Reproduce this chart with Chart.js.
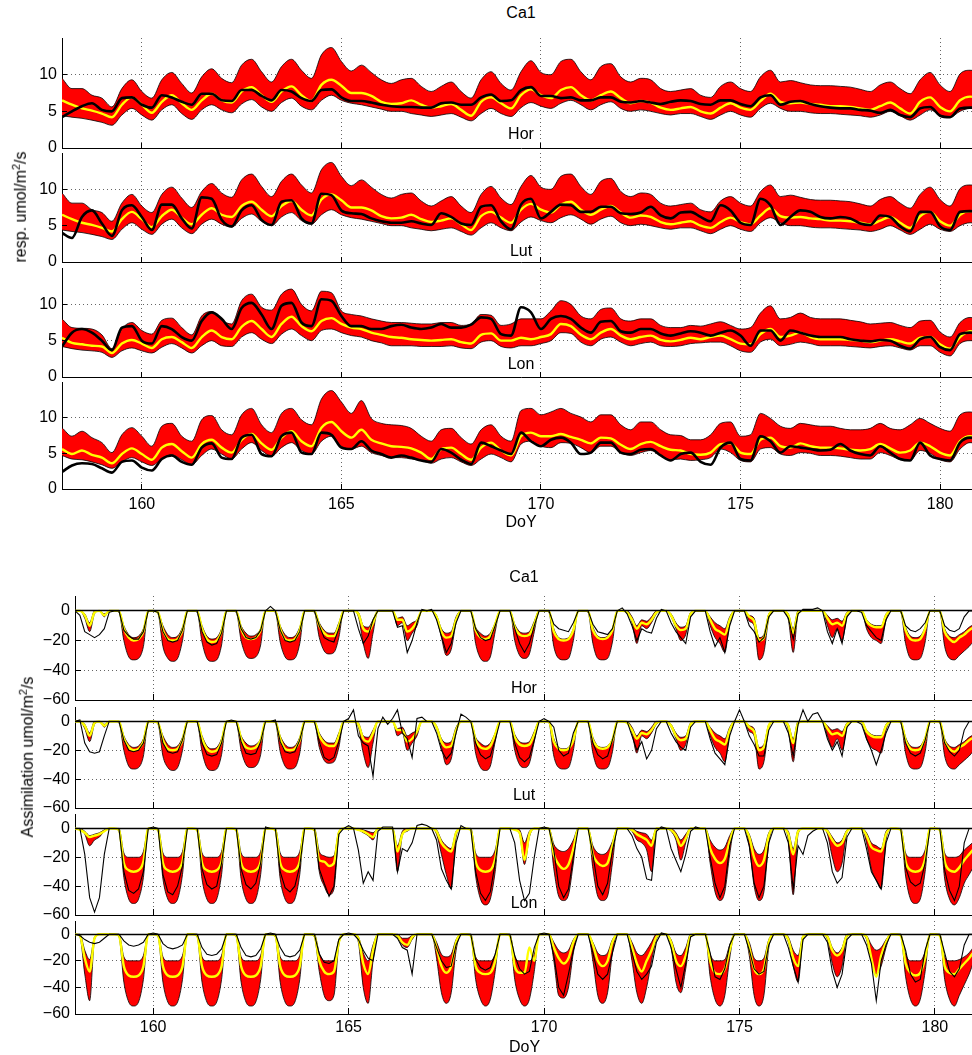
<!DOCTYPE html>
<html>
<head>
<meta charset="utf-8">
<script src="https://cdn.jsdelivr.net/npm/chart.js@4.4.1/dist/chart.umd.min.js"></script>
<style>
  body { margin: 0; width: 972px; height: 1055px; overflow: hidden; background: #fff; position: relative;
         font-family: "Liberation Sans", Arial, sans-serif; }
  canvas { position: absolute; left: 0; }
  .lbl { position: absolute; font-size: 16px; line-height: 1; color: #000; white-space: nowrap;
         transform: translate(-50%, -50%); z-index: 5; }
  .ylab { transform: translate(-50%, -50%) rotate(-90deg); }
  .ylab sup { font-size: 11px; }
</style>
</head>
<body>
<div class="lbl" style="left:521px;top:13px">Ca1</div>
<div class="lbl" style="left:521px;top:134px">Hor</div>
<div class="lbl" style="left:521px;top:251px">Lut</div>
<div class="lbl" style="left:521px;top:364px">Lon</div>
<div class="lbl ylab" style="left:20px;top:207px">resp. umol/m<sup>2</sup>/s</div>

<div class="lbl" style="left:524px;top:577px">Ca1</div>
<div class="lbl" style="left:524px;top:688px">Hor</div>
<div class="lbl" style="left:524px;top:795px">Lut</div>
<div class="lbl" style="left:524px;top:903px">Lon</div>
<div class="lbl ylab" style="left:27px;top:757px">Assimilation umol/m<sup>2</sup>/s</div>

<script>
// axis ticks
const xTicks = [160, 165, 170, 175, 180];
const respTicks = [0, 5, 10];
const assimTicks = [-60, -40, -20, 0];

// sampling times (DoY): respiration every 6 h, assimilation every 3 h
const respDays = Array.from({ length: 93 }, (_, i) => 158 + i * 0.25);
const assimDays = Array.from({ length: 185 }, (_, i) => 158 + i * 0.125);

// ---- respiration (top block), two days per row ----
// model band Ca1 / Hor (same in both panels)
const ca1HorRespHigh = [
  9.5, 8.1, 8.1, 7.2, 6.8, 5.6, 8.1, 9.3,
  7.7, 6.8, 9.3, 10.3, 8.8, 7.5, 9.7, 10.8,
  9.5, 8.9, 11.3, 12.1, 10.4, 9.0, 11.1, 12.1,
  10.6, 9.5, 12.7, 13.7, 11.8, 10.5, 11.3, 10.3,
  9.3, 8.8, 9.3, 9.5, 8.4, 7.7, 8.4, 9.0,
  7.7, 6.8, 9.3, 10.4, 8.8, 7.9, 10.4, 11.9,
  10.3, 10.0, 11.8, 12.1, 10.4, 9.3, 11.1, 11.5,
  9.7, 9.0, 9.5, 9.3, 8.1, 7.7, 7.9, 8.1,
  7.2, 6.9, 8.4, 9.0, 8.1, 7.7, 9.7, 10.6,
  9.0, 9.2, 8.9, 8.6, 8.5, 8.5, 8.4, 8.3,
  8.0, 7.7, 8.6, 9.0, 8.1, 7.4, 9.3, 10.3,
  8.6, 7.7, 10.1, 10.6, 10.5
];
const ca1HorRespLow = [
  4.4, 4.2, 4.05, 3.8, 3.5, 3.1, 4.5, 5.4,
  4.5, 3.8, 5.2, 5.9, 4.7, 3.9, 5.2, 5.9,
  5.2, 4.8, 6.0, 6.6, 5.6, 5.0, 6.2, 6.8,
  5.7, 5.2, 6.5, 7.2, 6.5, 6.1, 5.9, 5.6,
  5.3, 5.0, 5.0, 4.7, 4.5, 4.3, 4.5, 4.7,
  4.2, 3.7, 4.7, 5.4, 4.7, 4.3, 5.5, 6.2,
  5.7, 5.4, 6.1, 6.5, 5.9, 5.2, 5.9, 6.3,
  5.4, 5.0, 5.2, 5.0, 4.7, 4.5, 4.7, 4.7,
  4.3, 3.9, 4.5, 5.0, 4.5, 4.2, 5.4, 6.1,
  5.4, 5.0, 5.0, 4.8, 4.7, 4.7, 4.6, 4.5,
  4.4, 4.2, 4.5, 5.0, 4.4, 3.8, 4.5, 5.2,
  4.5, 4.2, 5.0, 5.4, 5.3
];
const ca1HorRespMid = [
  6.5, 5.9, 5.4, 5.1, 4.7, 4.2, 5.9, 6.9,
  5.9, 4.8, 6.3, 7.2, 6.1, 5.2, 6.5, 7.4,
  6.5, 6.2, 7.7, 8.3, 7.2, 6.3, 7.7, 8.4,
  7.2, 6.4, 8.6, 9.3, 8.5, 7.5, 7.5, 7.1,
  6.3, 6.0, 6.1, 6.5, 5.9, 5.5, 5.7, 6.0,
  5.2, 4.4, 6.3, 6.9, 6.1, 5.4, 7.2, 8.0,
  7.2, 6.8, 7.9, 8.3, 7.2, 6.5, 7.2, 7.7,
  6.8, 6.1, 6.4, 6.2, 5.5, 5.2, 5.4, 5.6,
  5.0, 4.7, 5.5, 6.1, 5.5, 5.2, 6.4, 7.4,
  6.3, 6.1, 6.2, 6.0, 5.9, 5.7, 5.7, 5.6,
  5.4, 5.2, 5.7, 6.2, 5.4, 4.7, 6.3, 6.9,
  5.6, 5.0, 6.5, 7.0, 6.9
];
const ca1RespObs = [
  4.2, 5.0, 5.7, 6.1, 5.2, 5.0, 6.8, 6.9,
  5.9, 5.5, 7.2, 6.9, 6.3, 5.9, 7.4, 7.4,
  6.5, 6.4, 7.9, 7.9, 7.1, 6.5, 7.9, 7.7,
  6.8, 6.4, 7.9, 8.0, 6.9, 6.4, 6.4, 6.2,
  5.9, 5.7, 5.6, 5.6, 5.5, 5.5, 6.1, 6.2,
  5.9, 5.9, 6.9, 7.3, 6.4, 6.5, 7.9, 8.3,
  7.1, 7.1, 6.8, 6.9, 6.5, 6.5, 6.9, 6.9,
  6.3, 6.2, 6.4, 6.2, 6.0, 6.3, 6.5, 6.4,
  6.0, 5.9, 6.5, 6.5, 6.0, 5.7, 6.9, 7.2,
  5.9, 6.3, 6.4, 6.0, 5.7, 5.5, 5.4, 5.4,
  5.2, 5.1, 4.8, 5.2, 4.5, 4.2, 5.4, 5.6,
  4.4, 4.2, 5.4, 5.5, 5.5
];
const horRespObs = [
  4.0, 3.3, 6.2, 7.1, 5.3, 3.6, 7.1, 7.8,
  6.2, 4.4, 7.9, 7.9, 6.0, 4.6, 8.9, 8.7,
  5.8, 4.9, 7.1, 7.8, 5.8, 5.1, 8.3, 8.5,
  6.0, 5.3, 9.4, 9.2, 7.1, 6.7, 6.6, 6.0,
  5.6, 5.4, 5.4, 5.6, 5.3, 5.1, 6.7, 6.2,
  5.3, 5.1, 7.6, 7.8, 5.6, 4.5, 7.9, 8.7,
  6.0, 6.9, 7.9, 7.8, 6.9, 6.9, 7.6, 7.6,
  6.7, 6.6, 6.8, 7.6, 6.4, 6.0, 6.8, 6.9,
  6.2, 5.6, 7.8, 7.1, 5.4, 5.1, 8.7, 7.8,
  5.1, 6.2, 7.1, 6.9, 6.2, 6.0, 6.2, 6.0,
  5.3, 5.1, 6.4, 6.2, 4.9, 4.2, 6.9, 6.9,
  4.9, 4.4, 6.9, 7.0, 6.9
];
// model band Lut
const lutRespHigh = [
  8.0, 6.8, 6.7, 6.6, 5.8, 3.9, 6.6, 7.5,
  6.4, 5.9, 7.8, 8.1, 6.8, 5.8, 8.4, 9.0,
  7.8, 7.3, 10.5, 11.4, 9.6, 9.2, 11.4, 12.1,
  10.0, 9.1, 11.8, 11.6, 9.1, 8.6, 8.4, 8.0,
  7.7, 7.5, 7.5, 7.4, 7.3, 7.3, 7.5, 7.5,
  7.1, 7.3, 8.6, 8.5, 7.1, 7.3, 8.0, 8.0,
  8.0, 9.1, 10.5, 10.0, 8.4, 8.0, 9.3, 9.5,
  8.0, 7.7, 8.0, 8.0, 7.1, 6.8, 6.8, 7.1,
  7.0, 7.3, 7.6, 7.1, 6.6, 6.8, 8.8, 9.8,
  8.0, 8.2, 8.8, 8.2, 8.0, 8.0, 8.0, 7.8,
  7.6, 7.3, 7.4, 7.5, 7.1, 6.8, 7.7, 7.8,
  6.2, 5.5, 7.5, 8.2, 8.0
];
const lutRespLow = [
  4.2, 3.9, 3.7, 3.6, 3.4, 2.7, 3.6, 4.0,
  3.6, 3.3, 4.1, 4.6, 4.0, 3.3, 4.3, 5.0,
  4.3, 4.2, 5.5, 6.1, 5.2, 4.6, 5.9, 6.6,
  5.7, 5.0, 6.4, 6.6, 6.1, 5.7, 5.5, 5.0,
  4.7, 4.3, 4.3, 4.3, 4.2, 4.2, 4.2, 4.3,
  4.0, 3.9, 4.8, 5.0, 4.2, 4.0, 4.3, 4.3,
  4.6, 5.0, 6.1, 6.0, 4.8, 4.3, 5.2, 5.5,
  4.8, 4.3, 4.6, 4.8, 4.3, 4.2, 4.3, 4.6,
  4.7, 4.8, 4.8, 4.3, 3.6, 3.4, 4.8, 5.2,
  4.3, 4.5, 4.8, 4.6, 4.3, 4.3, 4.3, 4.2,
  4.1, 4.0, 4.2, 4.3, 4.0, 3.7, 4.3, 4.3,
  3.4, 2.9, 4.6, 5.0, 5.0
];
const lutRespMid = [
  5.4, 4.7, 4.5, 4.3, 4.2, 3.3, 4.6, 5.1,
  4.6, 4.0, 5.2, 5.5, 4.8, 4.0, 5.5, 6.4,
  5.5, 5.2, 6.9, 7.7, 6.6, 5.5, 7.3, 8.3,
  7.0, 6.3, 7.7, 8.1, 7.3, 6.8, 6.6, 6.1,
  5.8, 5.5, 5.4, 5.2, 5.1, 5.0, 5.1, 5.2,
  4.8, 4.6, 5.8, 6.0, 5.0, 5.0, 5.4, 5.2,
  5.5, 5.9, 7.3, 7.0, 5.8, 5.2, 6.1, 6.6,
  5.7, 5.2, 5.5, 5.7, 5.1, 4.9, 5.1, 5.4,
  5.2, 5.5, 5.7, 5.2, 4.6, 4.5, 5.9, 6.6,
  5.5, 5.7, 6.1, 5.5, 5.2, 5.2, 5.2, 5.1,
  5.0, 4.8, 5.0, 5.2, 4.9, 4.6, 5.4, 5.5,
  4.5, 3.9, 5.5, 6.3, 6.2
];
const lutRespObs = [
  4.2, 6.1, 6.6, 6.1, 5.0, 3.7, 6.8, 7.0,
  5.0, 4.6, 7.0, 6.6, 5.5, 5.0, 7.7, 8.9,
  8.0, 6.6, 9.5, 10.2, 8.6, 6.6, 9.8, 10.2,
  7.5, 7.0, 10.7, 10.5, 8.4, 7.0, 7.0, 6.6,
  6.6, 7.0, 7.2, 6.8, 6.6, 6.8, 7.3, 6.8,
  6.8, 7.2, 8.2, 8.0, 5.9, 5.7, 9.6, 8.9,
  6.6, 8.0, 8.4, 8.0, 6.8, 6.1, 7.6, 7.7,
  6.3, 6.1, 6.6, 6.6, 6.0, 5.7, 6.0, 6.3,
  6.1, 5.7, 6.1, 6.4, 5.7, 4.3, 6.4, 6.4,
  5.0, 6.4, 6.1, 5.7, 5.5, 5.5, 5.5, 5.2,
  5.0, 4.9, 5.1, 5.0, 4.3, 3.9, 5.2, 5.5,
  4.1, 3.7, 5.9, 6.1, 6.0
];
// model band Lon
const lonRespHigh = [
  8.6, 7.4, 8.1, 7.2, 6.5, 5.1, 7.6, 8.6,
  7.4, 6.0, 8.8, 9.2, 7.4, 6.7, 9.7, 10.3,
  8.3, 7.6, 10.4, 11.3, 9.0, 7.9, 10.6, 11.3,
  9.7, 9.0, 12.6, 13.8, 12.2, 10.6, 12.4, 9.9,
  9.2, 9.0, 8.9, 8.5, 7.4, 6.7, 8.3, 8.5,
  7.2, 6.3, 8.3, 9.0, 7.4, 6.7, 11.0, 11.3,
  10.4, 10.8, 11.3, 10.6, 10.1, 9.4, 10.4, 10.4,
  9.0, 8.3, 9.4, 9.4, 8.3, 7.6, 7.5, 6.9,
  6.9, 7.6, 9.2, 9.4, 7.4, 7.6, 10.6, 9.9,
  8.8, 8.5, 9.2, 9.0, 8.8, 8.8, 8.5, 8.3,
  8.3, 8.5, 9.2, 8.5, 8.3, 9.0, 9.9, 9.2,
  8.5, 8.1, 10.4, 10.8, 10.6
];
const lonRespLow = [
  4.7, 4.2, 4.1, 3.8, 3.4, 2.9, 3.8, 4.4,
  3.8, 3.3, 4.2, 4.8, 4.1, 3.4, 4.7, 5.6,
  4.9, 4.2, 5.6, 6.5, 5.4, 4.6, 5.8, 6.5,
  5.4, 4.9, 6.7, 7.4, 6.0, 5.6, 6.0, 5.1,
  4.7, 4.4, 4.4, 4.2, 4.0, 3.6, 4.2, 4.4,
  3.8, 3.3, 4.2, 4.9, 4.4, 3.8, 6.3, 6.7,
  6.0, 5.8, 6.5, 6.4, 5.8, 5.1, 6.0, 6.0,
  5.1, 4.7, 5.1, 5.4, 4.7, 4.1, 4.2, 4.0,
  4.1, 4.4, 5.6, 5.1, 4.0, 3.8, 5.6, 5.8,
  4.9, 4.7, 5.1, 5.0, 4.7, 4.7, 4.6, 4.4,
  4.2, 4.2, 5.1, 4.7, 4.1, 4.0, 5.4, 5.0,
  4.1, 3.8, 5.6, 6.5, 6.4
];
const lonRespMid = [
  5.6, 4.9, 5.4, 4.8, 4.4, 3.6, 4.9, 5.7,
  4.9, 4.1, 5.8, 6.3, 5.3, 4.4, 6.3, 6.9,
  5.8, 5.1, 6.9, 7.7, 6.4, 5.5, 7.2, 8.1,
  6.7, 6.0, 8.6, 9.4, 8.1, 7.2, 8.3, 6.9,
  6.4, 6.0, 5.9, 5.7, 5.1, 4.2, 5.6, 5.8,
  4.9, 4.1, 5.8, 6.5, 5.4, 4.7, 7.4, 7.9,
  7.4, 7.4, 7.7, 7.3, 6.9, 6.4, 7.2, 7.1,
  6.2, 5.6, 6.3, 6.6, 6.0, 5.5, 5.4, 4.9,
  4.8, 5.1, 6.3, 6.4, 5.1, 4.9, 6.9, 7.2,
  6.0, 5.8, 6.4, 6.0, 5.8, 5.8, 5.7, 5.5,
  5.4, 5.6, 6.3, 5.7, 5.1, 5.4, 6.5, 6.0,
  5.1, 4.7, 6.7, 7.4, 7.3
];
const lonRespObs = [
  2.4, 3.3, 3.6, 3.5, 2.9, 2.3, 3.8, 4.0,
  3.0, 2.6, 4.2, 4.7, 3.8, 3.4, 5.8, 6.4,
  4.4, 4.2, 7.2, 7.6, 4.9, 4.6, 7.4, 7.9,
  5.1, 4.9, 7.9, 7.6, 5.8, 5.6, 6.7, 5.4,
  4.9, 4.4, 4.7, 4.4, 4.0, 3.8, 5.6, 5.1,
  4.1, 3.5, 6.5, 6.0, 5.4, 4.9, 7.9, 6.7,
  6.0, 6.9, 7.2, 6.5, 4.9, 5.1, 6.5, 6.5,
  5.1, 4.9, 5.5, 5.6, 4.7, 4.0, 4.9, 5.1,
  3.8, 3.4, 5.8, 6.5, 4.2, 4.0, 7.4, 6.7,
  5.1, 6.0, 5.8, 5.6, 5.4, 5.5, 6.3, 5.4,
  4.9, 4.7, 6.0, 5.1, 4.2, 4.0, 6.5, 4.7,
  4.2, 4.0, 6.5, 7.2, 7.0
];

// ---- assimilation (bottom block), one day per row ----
// model band Ca1 / Hor
const ca1HorAssimHigh = [
  0, 0, -2, -8, 0, 0, -2, 0,
  0, 0, -10, -16, -18, -17, -12, 0,
  0, -1, -10, -16, -18, -17, -11, 0,
  0, 0, -10, -17, -19, -18, -12, 0,
  0, 0, -10, -15, -17, -16, -12, 0,
  0, 0, -10, -16, -18, -17, -11, 0,
  0, 0, -8, -13, -15, -15, -8, 0,
  0, 0, -1, -10, -11, -6, 0, 0,
  0, 0, -5, -4, -10, -8, -6, 0,
  0, 0, -3, -12, -15, -14, -4, 0,
  0, 0, -11, -15, -17, -15, -8, 0,
  0, 0, -9, -14, -15, -14, -7, 0,
  0, 0, -12, -18, -19, -18, -12, 0,
  0, 0, -11, -17, -18, -17, -12, 0,
  0, 0, -4, -10, -6, -7, -4, 0,
  0, 0, -2, -8, -11, -10, -1, 0,
  0, 0, -4, -8, -10, -12, -4, 0,
  0, 0, -3, -5, -18, -16, -2, 0,
  0, 0, -2, -12, 0, 0, 0, 0,
  0, 0, -3, -6, -5, -7, -1, 0,
  0, 0, -6, -9, -10, -10, -2, 0,
  0, 0, -11, -17, -18, -17, -11, 0,
  0, 0, -12, -17, -18, -16, -14, -11,
  -9
];
const ca1HorAssimLow = [
  0, 0, -5, -14, -2, 0, -4, 0,
  0, -1, -20, -31, -33, -32, -24, 0,
  0, -2, -24, -32, -34, -32, -20, 0,
  0, -1, -21, -32, -34, -33, -23, 0,
  0, -1, -20, -30, -32, -31, -23, 0,
  0, -1, -21, -31, -33, -32, -22, 0,
  0, -1, -18, -27, -29, -28, -18, 0,
  0, 0, -4, -22, -32, -15, 0, 0,
  0, 0, -10, -8, -20, -15, -10, 0,
  0, 0, -5, -18, -30, -26, -8, 0,
  0, 0, -22, -32, -34, -31, -14, 0,
  0, 0, -20, -30, -32, -29, -14, 0,
  0, -1, -24, -32, -33, -32, -20, 0,
  0, -1, -22, -32, -33, -32, -21, 0,
  0, 0, -8, -22, -10, -12, -8, -2,
  0, 0, -4, -12, -20, -16, -2, 0,
  0, 0, -10, -18, -22, -28, -8, 0,
  0, 0, -7, -10, -33, -28, -5, 0,
  0, 0, -6, -28, -2, 0, 0, 0,
  0, 0, -10, -18, -12, -20, -4, 0,
  0, 0, -12, -18, -20, -22, -6, 0,
  0, -1, -22, -32, -33, -32, -21, 0,
  0, -1, -24, -32, -33, -30, -27, -24,
  -20
];
const ca1HorAssimMid = [
  0, 0, -3, -10, -1, 0, -3, 0,
  0, 0, -12, -18, -20, -19, -14, 0,
  0, -1, -13, -19, -20, -19, -13, 0,
  0, 0, -12, -19, -21, -20, -14, 0,
  0, 0, -12, -18, -19, -18, -13, 0,
  0, 0, -12, -19, -20, -19, -13, 0,
  0, 0, -10, -15, -17, -17, -10, 0,
  0, 0, -2, -12, -14, -8, 0, 0,
  0, 0, -6, -6, -14, -12, -7, 0,
  0, 0, -4, -14, -18, -17, -6, 0,
  0, 0, -13, -18, -19, -17, -9, 0,
  0, 0, -11, -16, -17, -16, -9, 0,
  0, 0, -14, -19, -20, -19, -13, 0,
  0, 0, -13, -18, -19, -18, -13, 0,
  0, -1, -6, -12, -8, -9, -6, -1,
  0, 0, -3, -10, -13, -12, -2, 0,
  0, 0, -6, -12, -14, -16, -6, 0,
  0, 0, -4, -7, -20, -18, -3, 0,
  0, 0, -3, -15, -1, 0, 0, 0,
  0, 0, -5, -9, -8, -10, -2, 0,
  0, 0, -7, -10, -11, -11, -3, 0,
  0, 0, -13, -19, -20, -19, -12, 0,
  0, 0, -14, -19, -21, -18, -16, -13,
  -11
];
const ca1AssimObs = [
  0, -3, -14, -16, -18, -16, -12, -1,
  0, 0, -13, -17, -19, -19, -14, 0,
  0, -1, -14, -20, -21, -20, -13, 0,
  0, 0, -14, -21, -23, -22, -15, 0,
  0, 0, -12, -18, -19, -18, -13, 0,
  3, 0, -13, -20, -21, -20, -14, 0,
  0, 0, -10, -18, -20, -21, -12, 0,
  0, 0, -12, -22, -17, -6, 0, 0,
  0, 0, -11, -10, -28, -20, -8, 1,
  0, 1, -6, -17, -28, -22, -8, 0,
  0, 0, -12, -18, -20, -19, -10, 0,
  0, 0, -12, -22, -28, -22, -10, 0,
  0, 0, -9, -12, -13, -14, -8, 0,
  0, 0, -9, -14, -15, -16, -12, 0,
  2, -2, -10, -20, -12, -14, -15, -5,
  1, 0, -8, -14, -18, -22, -4, 0,
  0, 0, -14, -24, -18, -28, -10, 0,
  0, 0, -10, -14, -21, -18, -4, 0,
  0, 0, -5, -19, -2, 1, 1, 1,
  2, 0, -14, -22, -12, -22, -4, 0,
  0, -1, -10, -14, -18, -20, -6, 0,
  0, 0, -10, -13, -14, -12, -8, 0,
  0, 0, -10, -13, -14, -12, -4, 0,
  0
];
const horAssimObs = [
  0, 1, -15, -21, -22, -21, -10, 0,
  0, 0, -13, -20, -21, -20, -15, 0,
  0, 0, -15, -21, -22, -21, -13, 0,
  0, 0, -15, -23, -24, -23, -15, 0,
  1, 0, -14, -22, -23, -22, -14, 0,
  0, 1, -14, -21, -22, -21, -13, 0,
  0, 0, -14, -25, -27, -25, -14, 0,
  2, 8, -10, -15, -17, -38, -5, 3,
  -2, 2, 8, -8, -12, -25, 2, 3,
  0, 0, -8, -20, -26, -22, -8, 5,
  3, 0, -15, -23, -26, -24, -13, 0,
  0, 0, -15, -25, -28, -25, -13, 0,
  2, 0, -4, -20, -24, -22, -8, 0,
  0, 0, -15, -23, -26, -24, -13, 0,
  0, 0, -10, -20, -14, -26, -20, -5,
  0, 0, -8, -14, -18, -20, -4, 0,
  0, 0, -12, -22, -26, -30, -10, 0,
  8, 0, -10, -16, -24, -24, -6, 0,
  0, 0, -8, -24, -2, 8, 0, 5,
  6, 0, -12, -20, -14, -24, -4, 0,
  0, -2, -12, -20, -30, -20, -8, 0,
  0, 0, -15, -22, -24, -22, -13, 0,
  0, 0, -15, -21, -24, -20, -6, 0,
  0
];
// model band Lut
const lutAssimHigh = [
  0, 0, -2, -5, -4, -3, -1, 0,
  0, 0, -17, -20, -20, -20, -16, 0,
  0, 0, -17, -20, -20, -20, -16, 0,
  0, 0, -17, -20, -20, -20, -16, 0,
  0, 0, -17, -20, -20, -20, -16, 0,
  0, 0, -17, -20, -20, -20, -16, 0,
  0, 0, -16, -19, -20, -19, -2, 0,
  0, 0, 0, -1, -2, -3, 0, 0,
  0, 0, -12, -2, 0, 0, 0, 0,
  0, 0, -1, -8, -12, -14, -2, 0,
  0, 0, -17, -20, -20, -20, -15, 0,
  0, 0, 0, -1, -10, -2, 0, 0,
  0, 0, -11, -15, -16, -14, -8, 0,
  0, 0, -12, -17, -18, -16, -9, 0,
  0, 0, 0, -2, -3, -4, -8, 0,
  0, 0, 0, -3, -8, -4, 0, 0,
  0, 0, -8, -13, -15, -13, -5, 0,
  0, 0, -4, -14, -18, -15, -3, 0,
  0, 0, -2, -14, -1, 0, 0, 0,
  0, 0, -1, -6, -10, -8, -1, 0,
  0, 0, -3, -10, -12, -14, -2, 0,
  0, 0, -17, -20, -20, -20, -15, 0,
  0, 0, -17, -20, -20, -19, -15, -12,
  -9
];
const lutAssimLow = [
  0, 0, -4, -12, -8, -6, -2, 0,
  0, -2, -34, -49, -52, -49, -34, 0,
  0, -2, -35, -49, -52, -49, -32, 0,
  0, -2, -35, -49, -52, -49, -32, 0,
  0, -2, -35, -49, -52, -49, -32, 0,
  0, -2, -35, -49, -52, -49, -32, 0,
  0, -2, -30, -40, -46, -42, -5, 0,
  0, 0, -1, -3, -5, -8, 0, 0,
  0, 0, -30, -5, -2, 0, 0, 0,
  0, 0, -4, -18, -32, -42, -6, 0,
  0, -1, -33, -49, -53, -49, -30, 0,
  0, 0, -1, -4, -25, -6, 0, 0,
  0, 0, -28, -47, -50, -46, -24, 0,
  0, 0, -28, -47, -50, -47, -24, 0,
  0, 0, -2, -8, -10, -15, -30, 0,
  0, 0, -2, -8, -22, -10, 0, 0,
  0, 0, -24, -44, -50, -44, -18, 0,
  0, 0, -12, -40, -50, -44, -10, 0,
  0, 0, -8, -46, -4, 0, 0, 0,
  0, 0, -4, -20, -30, -24, -3, 0,
  0, 0, -10, -28, -36, -42, -8, 0,
  0, -1, -33, -49, -52, -49, -30, 0,
  0, -1, -35, -49, -53, -48, -38, -32,
  -26
];
const lutAssimMid = [
  0, -1, -3, -6, -5, -4, -2, 0,
  0, -1, -24, -29, -30, -29, -23, 0,
  0, -1, -24, -29, -30, -29, -23, 0,
  0, -1, -24, -29, -30, -29, -23, 0,
  0, -1, -24, -29, -30, -29, -23, 0,
  0, -1, -24, -29, -30, -29, -23, 0,
  0, -1, -22, -23, -26, -24, -3, 0,
  0, 0, -1, -2, -4, -6, 0, 0,
  0, 0, -16, -4, -1, 0, 0, 0,
  0, 0, -2, -10, -14, -16, -3, 0,
  0, -1, -23, -29, -30, -29, -21, 0,
  0, 0, -1, -3, -22, -4, 0, 0,
  0, 0, -18, -25, -28, -25, -14, 0,
  0, 0, -18, -24, -26, -24, -12, 0,
  0, 0, -1, -4, -6, -8, -12, 0,
  0, 0, -1, -5, -12, -7, 0, 0,
  0, 0, -14, -21, -24, -21, -9, 0,
  0, 0, -6, -20, -26, -22, -5, 0,
  0, 0, -4, -18, -2, 0, 0, 0,
  0, 0, -2, -8, -12, -10, -2, 0,
  0, 0, -5, -13, -15, -16, -4, 0,
  0, -1, -23, -29, -30, -29, -21, 0,
  0, -1, -23, -29, -30, -27, -22, -18,
  -14
];
const lutAssimObs = [
  0, 0, -18, -48, -58, -48, -18, 0,
  0, 0, -30, -43, -45, -42, -30, 0,
  1, 0, -32, -44, -46, -40, -26, 0,
  0, 0, -28, -39, -42, -40, -24, 0,
  0, 0, -28, -39, -42, -38, -24, 1,
  0, 0, -30, -41, -44, -40, -26, 0,
  0, 0, -28, -38, -47, -40, -4, 0,
  2, 0, -15, -38, -30, -36, -2, 1,
  1, 1, -30, -14, -16, -10, 2, 3,
  2, 0, -8, -28, -36, -42, -10, 2,
  0, 0, -30, -45, -50, -44, -24, 0,
  0, 0, -10, -36, -50, -45, -20, 0,
  1, 0, -15, -40, -48, -42, -20, 0,
  0, 0, -18, -40, -46, -38, -15, 0,
  0, 0, -5, -14, -20, -35, -36, -2,
  1, 0, -14, -22, -30, -18, -2, 1,
  0, 0, -20, -38, -48, -40, -12, 0,
  0, 0, -12, -38, -48, -40, -10, 0,
  0, 0, -10, -42, -12, -18, -5, -2,
  0, 0, -10, -30, -38, -34, -6, 0,
  0, 0, -14, -30, -36, -42, -10, 0,
  0, 0, -27, -37, -40, -38, -24, 0,
  0, 0, -29, -43, -50, -40, -10, 0,
  0
];
// model band Lon
const lonAssimHigh = [
  0, 0, -12, -19, -2, 0, 0, 0,
  0, 0, -17, -20, -20, -20, -16, 0,
  0, 0, -17, -20, -20, -20, -16, 0,
  0, 0, -17, -20, -20, -20, -16, 0,
  0, 0, -17, -20, -20, -20, -16, 0,
  0, 0, -17, -20, -20, -20, -16, 0,
  0, 0, -14, -20, -20, -20, -4, 0,
  0, 0, -2, -14, -20, -8, 0, 0,
  0, 0, 0, -3, -3, -1, 0, 0,
  0, 0, -6, -15, -17, -15, -4, 0,
  0, 0, -17, -20, -20, -20, -15, 0,
  0, 0, -17, -20, -20, -20, -15, 0,
  0, 0, -6, -12, -14, -12, -4, 0,
  0, 0, -6, -14, -16, -14, -4, 0,
  0, 0, -6, -14, -16, -12, -6, 0,
  0, 0, -4, -14, -16, -10, 0, 0,
  0, 0, -15, -20, -20, -19, -8, 0,
  0, 0, -6, -18, -20, -18, -4, 0,
  0, 0, -2, -12, -16, -1, 0, 0,
  0, 0, -1, -10, -14, -10, 0, 0,
  0, 0, -1, -8, -12, -10, -4, 0,
  0, 0, -15, -20, -20, -20, -13, 0,
  0, 0, -17, -20, -20, -19, -17, -14,
  -9
];
const lonAssimLow = [
  0, -2, -30, -50, -4, 0, 0, 0,
  0, -2, -36, -51, -54, -51, -34, 0,
  0, -2, -36, -51, -54, -51, -34, 0,
  0, -2, -36, -51, -54, -51, -34, 0,
  0, -2, -36, -51, -54, -51, -34, 0,
  0, -2, -36, -51, -54, -51, -34, 0,
  0, -2, -28, -46, -50, -46, -8, 0,
  0, 0, -6, -40, -52, -20, 0, 0,
  0, 0, -2, -8, -10, -4, 0, 0,
  0, 0, -18, -44, -52, -44, -12, 0,
  0, -1, -34, -49, -54, -49, -28, 0,
  0, -1, -34, -49, -54, -49, -28, 0,
  0, 0, -20, -46, -48, -40, -14, 0,
  0, 0, -20, -46, -52, -44, -14, 0,
  0, 0, -20, -44, -52, -40, -20, -4,
  0, 0, -10, -36, -44, -26, -2, 0,
  0, 0, -32, -49, -54, -46, -18, 0,
  0, 0, -16, -46, -54, -46, -10, 0,
  0, 0, -6, -24, -36, -4, 0, 0,
  0, 0, -4, -22, -32, -24, -2, 0,
  0, 0, -4, -20, -30, -24, -10, 0,
  0, -1, -32, -49, -54, -49, -28, 0,
  0, -1, -34, -49, -54, -46, -38, -30,
  -20
];
const lonAssimMid = [
  0, -1, -18, -28, -3, 0, 0, 0,
  0, -1, -24, -31, -32, -31, -24, 0,
  0, -1, -24, -31, -32, -31, -24, 0,
  0, -1, -24, -31, -32, -31, -24, 0,
  0, -1, -24, -31, -32, -31, -24, 0,
  0, -1, -24, -31, -32, -31, -24, 0,
  0, -1, -20, -28, -30, -28, -6, 0,
  0, 0, -3, -22, -30, -12, 0, 0,
  0, 0, -1, -6, -8, -2, 0, 0,
  0, 0, -10, -24, -29, -24, -6, 0,
  0, -1, -24, -29, -30, -29, -20, 0,
  0, -1, -24, -29, -29, -10, -20, 0,
  0, 0, -10, -18, -22, -18, -6, 0,
  0, 0, -8, -20, -24, -20, -6, 0,
  0, 0, -10, -22, -28, -20, -12, -2,
  0, 0, -6, -20, -24, -16, -1, 0,
  0, 0, -20, -29, -30, -26, -12, 0,
  0, 0, -10, -26, -30, -26, -6, 0,
  0, 0, -4, -18, -24, -2, 0, 0,
  0, 0, -2, -12, -16, -12, -1, 0,
  0, 0, -2, -18, -32, -16, -6, 0,
  0, -1, -22, -29, -31, -29, -18, 0,
  0, -1, -24, -29, -30, -26, -22, -18,
  -13
];
const lonAssimObs = [
  0, -1, -4, -6, -7, -6, -3, 0,
  0, 0, -5, -8, -9, -8, -6, 0,
  1, 0, -7, -10, -11, -10, -8, 0,
  0, 0, -10, -15, -16, -15, -11, 0,
  0, 0, -10, -16, -17, -16, -11, 0,
  1, 0, -10, -16, -17, -16, -12, 0,
  0, 0, -15, -21, -22, -20, -4, 0,
  1, 0, -4, -12, -18, -20, 0, 0,
  0, 0, -3, -10, -12, -30, 0, 0,
  0, 0, -10, -20, -25, -24, -8, 0,
  0, 0, -19, -25, -27, -25, -15, 0,
  0, 0, -16, -26, -30, -28, -10, 0,
  1, 0, -16, -40, -46, -30, -12, 0,
  0, 0, -14, -30, -34, -30, -14, 0,
  0, 0, -14, -28, -34, -30, -24, -6,
  1, 0, -10, -26, -40, -22, -2, 0,
  0, 0, -14, -32, -34, -26, -8, 0,
  0, 0, -12, -26, -30, -28, -8, 0,
  0, 0, -10, -24, -36, -4, 0, 0,
  0, 0, -6, -28, -40, -30, -4, 0,
  0, 0, -8, -22, -50, -20, -8, 0,
  0, 0, -12, -30, -36, -34, -12, 0,
  0, 0, -14, -28, -32, -26, -8, 0,
  0
];

Chart.defaults.font.family = '"Liberation Sans", Arial, sans-serif';
Chart.defaults.font.size = 16;
Chart.defaults.color = '#000';

// same rounding as the library grid lines, so marks land on the grid rows
function crisp(v) {
  return Math.round(v - 0.5) + 0.5;
}

// small inward tick marks (matlab style) + optional solid zero line
const innerTicks = {
  id: 'innerTicks',
  afterDatasetsDraw(chart, args, opts) {
    const { ctx, chartArea: a, scales: { x, y } } = chart;
    ctx.save();
    ctx.strokeStyle = '#000';
    ctx.lineWidth = 1;
    ctx.setLineDash([]);
    ctx.beginPath();
    x.ticks.forEach(t => {
      const px = crisp(x.getPixelForValue(t.value));
      ctx.moveTo(px, a.bottom);
      ctx.lineTo(px, a.bottom - opts.len);
    });
    y.ticks.forEach(t => {
      const py = crisp(y.getPixelForValue(t.value));
      ctx.moveTo(a.left, py);
      ctx.lineTo(a.left + opts.len, py);
    });
    ctx.stroke();
    if (opts.zero) {
      ctx.lineWidth = 1.3;
      ctx.beginPath();
      const py = crisp(y.getPixelForValue(0));
      ctx.moveTo(a.left, py);
      ctx.lineTo(a.right, py);
      ctx.stroke();
    }
    ctx.restore();
  }
};

const respGroup = { left: 62, right: 980, min: 0, max: 15, ticks: respTicks, obsWidth: 2.6, obsSmooth: true, tickLen: 5, zero: false, labelPad: 6 };
const assimGroup = { left: 75, right: 974, min: -60, max: 10, ticks: assimTicks, obsWidth: 1.1, obsSmooth: false, tickLen: 6, zero: true, labelPad: 4 };

const panels = [
  { group: respGroup, days: respDays, top: 38, bottom: 148, high: ca1HorRespHigh, low: ca1HorRespLow, mid: ca1HorRespMid, obs: ca1RespObs },
  { group: respGroup, days: respDays, top: 153, bottom: 262, high: ca1HorRespHigh, low: ca1HorRespLow, mid: ca1HorRespMid, obs: horRespObs },
  { group: respGroup, days: respDays, top: 268, bottom: 377, high: lutRespHigh, low: lutRespLow, mid: lutRespMid, obs: lutRespObs },
  { group: respGroup, days: respDays, top: 382, bottom: 489, high: lonRespHigh, low: lonRespLow, mid: lonRespMid, obs: lonRespObs, last: true },
  { group: assimGroup, days: assimDays, top: 596, bottom: 700, high: ca1HorAssimHigh, low: ca1HorAssimLow, mid: ca1HorAssimMid, obs: ca1AssimObs },
  { group: assimGroup, days: assimDays, top: 707, bottom: 808, high: ca1HorAssimHigh, low: ca1HorAssimLow, mid: ca1HorAssimMid, obs: horAssimObs },
  { group: assimGroup, days: assimDays, top: 814, bottom: 915, high: lutAssimHigh, low: lutAssimLow, mid: lutAssimMid, obs: lutAssimObs },
  { group: assimGroup, days: assimDays, top: 921, bottom: 1014, high: lonAssimHigh, low: lonAssimLow, mid: lonAssimMid, obs: lonAssimObs, last: true }
];

function minusLabel(v) {
  return v < 0 ? '\u2212' + Math.abs(v) : String(v);
}

function criarPainel(p) {
  const g = p.group;
  const padTop = 16;
  const padBottom = p.last ? 4 : 16;
  const axisH = p.last ? 43 : 0;
  const canvas = document.createElement('canvas');
  canvas.width = 990;
  canvas.height = padTop + (p.bottom - p.top) + axisH + padBottom;
  canvas.style.top = (p.top - padTop) + 'px';
  document.body.appendChild(canvas);

  const dottedX = { color: 'rgba(0,0,0,0.6)', lineWidth: 1, drawTicks: false };
  // the zero row of the assimilation panels gets a solid line instead (plugin)
  const dottedY = {
    color: c => (g.zero && c.tick && c.tick.value === 0) ? 'rgba(0,0,0,0)' : 'rgba(0,0,0,0.6)',
    lineWidth: 1,
    drawTicks: false
  };
  const obsLine = { data: p.obs, borderColor: '#000', borderWidth: g.obsWidth, pointRadius: 0, order: 0 };
  if (g.obsSmooth) obsLine.cubicInterpolationMode = 'monotone';

  new Chart(canvas, {
    type: 'line',
    data: {
      labels: p.days,
      datasets: [
        obsLine,
        { data: p.mid, borderColor: '#ffff00', borderWidth: 2.4, pointRadius: 0, cubicInterpolationMode: 'monotone', order: 1 },
        { data: p.high, borderColor: '#000', borderWidth: 0.8, backgroundColor: '#ff0000', fill: '+1',
          pointRadius: 0, cubicInterpolationMode: 'monotone', order: 2 },
        { data: p.low, borderColor: '#000', borderWidth: 0.8, pointRadius: 0, cubicInterpolationMode: 'monotone', order: 3 }
      ]
    },
    options: {
      responsive: false,
      animation: false,
      events: [],
      layout: { padding: { left: 0, right: 990 - g.right, top: padTop, bottom: padBottom } },
      plugins: {
        legend: { display: false },
        tooltip: { enabled: false },
        filler: { drawTime: 'beforeDatasetsDraw' },
        innerTicks: { len: g.tickLen, zero: g.zero }
      },
      scales: {
        x: {
          type: 'linear',
          min: 158,
          max: 181,
          afterBuildTicks: s => { s.ticks = xTicks.map(v => ({ value: v })); },
          afterFit: s => { s.height = axisH; },
          grid: dottedX,
          border: { display: true, color: '#000', width: 1, dash: [1, 3] },
          ticks: { display: !!p.last, padding: g.labelPad, maxRotation: 0, autoSkip: false },
          title: { display: !!p.last, text: 'DoY', padding: { top: 0, bottom: 0 } }
        },
        y: {
          min: g.min,
          max: g.max,
          afterBuildTicks: s => { s.ticks = g.ticks.map(v => ({ value: v })); },
          afterFit: s => { s.width = g.left; },
          grid: dottedY,
          border: { display: true, color: '#000', width: 1, dash: [1, 3] },
          ticks: { padding: 5, callback: v => minusLabel(v) }
        }
      }
    },
    plugins: [innerTicks]
  });
}

panels.forEach(criarPainel);
</script>
</body>
</html>
